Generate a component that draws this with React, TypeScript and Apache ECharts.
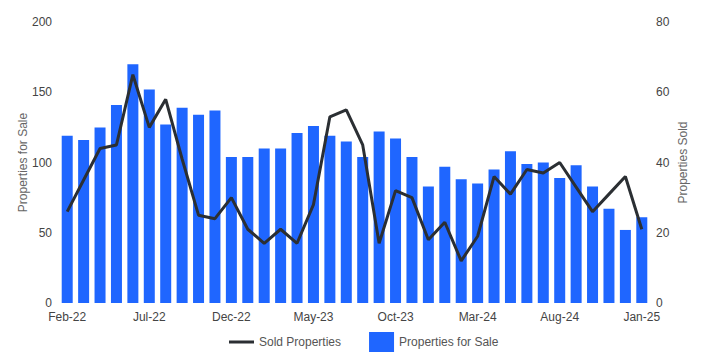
import React, { useEffect, useRef } from "react";
import * as echarts from "echarts";

const categories = [
  "Feb-22","Mar-22","Apr-22","May-22","Jun-22","Jul-22","Aug-22","Sep-22","Oct-22","Nov-22","Dec-22",
  "Jan-23","Feb-23","Mar-23","Apr-23","May-23","Jun-23","Jul-23","Aug-23","Sep-23","Oct-23","Nov-23","Dec-23",
  "Jan-24","Feb-24","Mar-24","Apr-24","May-24","Jun-24","Jul-24","Aug-24","Sep-24","Oct-24","Nov-24","Dec-24",
  "Jan-25",
];

const propertiesForSale = [
  119, 116, 125, 141, 170, 152, 127, 139, 134, 137, 104,
  104, 110, 110, 121, 126, 119, 115, 104, 122, 117, 104, 83,
  97, 88, 85, 95, 108, 99, 100, 89, 98, 83, 67, 52,
  61,
];

const soldProperties = [
  26, 35, 44, 45, 65, 50, 58, 41, 25, 24, 30,
  21, 17, 21, 17, 28, 53, 55, 45, 17, 32, 30, 18,
  23, 12, 19, 36, 31, 38, 37, 40, 33, 26, 31, 36,
  21,
];

const leftTicks = { min: 0, max: 200, interval: 50 };
const rightTicks = { min: 0, max: 80, interval: 20 };

const FONT = "Arial";
const LINE_ICON = "path://M0,0M0,8.5L25,8.5L25,11.5L0,11.5ZM25,20";

export default function App() {
  const ref = useRef<HTMLDivElement>(null);
  useEffect(() => {
    if (!ref.current) return;
    const chart = echarts.init(ref.current, undefined, { renderer: "svg" });
    chart.setOption({
      animation: false,
      textStyle: { fontFamily: FONT },
      grid: { left: 59, right: 58, top: 22, bottom: 61 },
      legend: {
        top: 327,
        left: 224,
        itemWidth: 25,
        itemHeight: 20,
        itemGap: 28,
        itemStyle: { borderWidth: 0 },
        textStyle: { fontSize: 12, color: "#555", fontFamily: FONT },
        data: [
          { name: "Sold Properties", icon: LINE_ICON, itemStyle: { color: "#2b2f33", borderWidth: 0 } },
          { name: "Properties for Sale", icon: "rect" },
        ],
      },
      xAxis: {
        type: "category",
        data: categories,
        axisLine: { show: false },
        axisTick: { show: false },
        axisLabel: { interval: 4, color: "#444", fontSize: 12, margin: 8, fontFamily: FONT },
      },
      yAxis: [
        {
          type: "value",
          ...leftTicks,
          name: "Properties for Sale",
          nameLocation: "middle",
          nameGap: 30,
          nameMoveOverlap: false,
          nameTextStyle: { color: "#666", fontSize: 12, fontFamily: FONT },
          splitLine: { show: false },
          axisLine: { show: false },
          axisTick: { show: false },
          axisLabel: { color: "#444", fontSize: 12, margin: 7, fontFamily: FONT },
        },
        {
          type: "value",
          ...rightTicks,
          name: "Properties Sold",
          nameLocation: "middle",
          nameGap: 27,
          nameMoveOverlap: false,
          nameTextStyle: { color: "#666", fontSize: 12, fontFamily: FONT },
          splitLine: { show: false },
          axisLine: { show: false },
          axisTick: { show: false },
          axisLabel: { color: "#444", fontSize: 12, margin: 6, fontFamily: FONT },
        },
      ],
      series: [
        {
          name: "Properties for Sale",
          type: "bar",
          yAxisIndex: 0,
          data: propertiesForSale,
          barCategoryGap: "33%",
          itemStyle: { color: "#1f66ff" },
        },
        {
          name: "Sold Properties",
          type: "line",
          yAxisIndex: 1,
          data: soldProperties,
          symbol: "none",
          lineStyle: { color: "#2b2f33", width: 3 },
          itemStyle: { color: "#2b2f33" },
        },
      ],
    });
    return () => chart.dispose();
  }, []);
  return (
    <div
      ref={ref}
      style={{ position: "absolute", left: 0, top: 0, width: 708, height: 364 }}
    />
  );
}
